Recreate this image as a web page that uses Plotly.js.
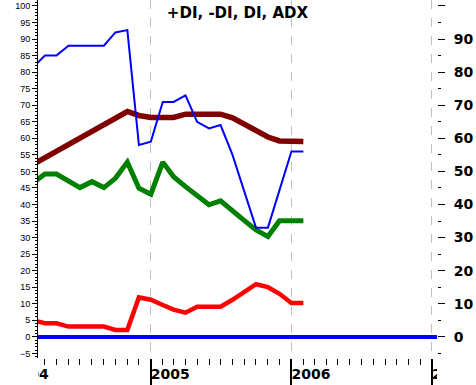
<!DOCTYPE html>
<html>
<head>
<meta charset="utf-8">
<script src="https://cdn.plot.ly/plotly-3.0.1.min.js"></script>
<style>html,body{margin:0;padding:0;background:#fff;}#chart{width:476px;height:385px;}</style>
</head>
<body>
<div id="chart"></div>
<script>
// Monthly observations, Mar 2004 .. Feb 2006
var dates = ['2004-03-01','2004-04-01','2004-05-01','2004-06-01','2004-07-01','2004-08-01',
             '2004-09-01','2004-10-01','2004-11-01','2004-12-01','2005-01-01','2005-02-01',
             '2005-03-01','2005-04-01','2005-05-01','2005-06-01','2005-07-01','2005-08-01',
             '2005-09-01','2005-10-01','2005-11-01','2005-12-01','2006-01-01','2006-02-01'];
var plusDI  = [81.5, 85, 85, 88, 88, 88, 88, 92, 92.7, 58, 59, 71, 71, 73, 65, 63, 64, 55, 44, 33, 33, 44.5, 56, 56];
var adx     = [52.1, 54.1, 56.1, 58.1, 60.0, 62.0, 64.0, 66.0, 68.1, 66.9, 66.3, 66.3, 66.3, 67.3, 67.3, 67.3, 67.3, 66.2, 64.4, 62.2, 60.4, 59.2, 59, 59];
var minusDI = [46.5, 49.2, 49.2, 47.2, 45.1, 46.9, 45.1, 47.9, 52.8, 44.9, 43.1, 52.8, 48.4, 45.4, 42.7, 39.9, 41.1, 37.9, 35.1, 32.3, 30.3, 35.1, 35.1, 35.1];
var di      = [5.0, 4.1, 4.1, 3.1, 3.1, 3.1, 3.1, 2.1, 2.1, 11.9, 11.2, 9.6, 8.2, 7.3, 9.1, 9.1, 9.1, 11.2, 13.7, 15.9, 15.0, 13.0, 10.2, 10.2];
// Year tick labels along the bottom
var yearDates  = ['2004-01-01','2005-01-01','2006-01-01','2007-01-01'];
var yearLabels = ['2004','2005','2006','2007'];
var leftTicks  = [-5,0,5,10,15,20,25,30,35,40,45,50,55,60,65,70,75,80,85,90,95,100];
var rightTicks = [0,10,20,30,40,50,60,70,80,90,100];
var rightText  = ['0','10','20','30','40','50','60','70','80','90',''];

var xRange = ['2004-03-14','2007-01-14'];
var yRange = [-6.4, 101.8];
var H = 385, plotBottom = 358;

var traces = [
  {x: dates, y: di, mode:'lines', line:{color:'#ff0000', width:4.5}, xaxis:'x', yaxis:'y'},
  {x: dates, y: minusDI, mode:'lines', line:{color:'#008000', width:5}, xaxis:'x', yaxis:'y'},
  {x: dates, y: adx, mode:'lines', line:{color:'#800000', width:5.5}, xaxis:'x', yaxis:'y'},
  {x: dates, y: plusDI, mode:'lines', line:{color:'#0000ff', width:2}, xaxis:'x', yaxis:'y2'},
  {x: yearDates, y: yearDates.map(function(){return 0;}), text: yearLabels, mode:'text',
   textposition:'middle right', cliponaxis:true, marker:{size:12},
   textfont:{family:'DejaVu Sans', size:14, color:'#000', weight:'bold'},
   xaxis:'x2', yaxis:'y3'}
];

var layout = {
  width: 476, height: 385,
  margin: {l:38, r:39, t:0, b:0, pad:0},
  paper_bgcolor:'#fff', plot_bgcolor:'#fff',
  showlegend:false,
  hovermode:false,
  font:{family:'Liberation Sans, Arial, sans-serif', color:'#000'},
  title:{text:'+DI, -DI, DI, ADX', x:0.5, xref:'paper', xanchor:'center',
         y:1-13/H, yanchor:'middle',
         font:{family:'DejaVu Sans', size:15, weight:'bold', color:'#000'}},
  xaxis:{type:'date', range:xRange, anchor:'y',
         tickmode:'linear', tick0:'2004-01-01', dtick:'M12',
         ticks:'outside', ticklen:26, tickwidth:2, tickcolor:'#000',
         showticklabels:false, showline:false, zeroline:false,
         showgrid:true, gridcolor:'#c0c0c0', griddash:'dash', gridwidth:1,
         minor:{tickmode:'linear', tick0:'2004-01-01', dtick:'M1', ticks:'outside', ticklen:6, tickwidth:1, tickcolor:'#000', showgrid:false}},
  xaxis2:{type:'date', matches:'x', range:xRange, anchor:'y3', visible:false, showgrid:false},
  yaxis:{domain:[(H-plotBottom)/H, 1], range:yRange, anchor:'x',
         tickmode:'array', tickvals:leftTicks,
         ticks:'outside', ticklen:5, tickcolor:'#000', tickwidth:1,
         tickfont:{family:'Liberation Sans', size:9, color:'#000'},
         showline:true, linecolor:'#000', linewidth:1,
         showgrid:false,
         zeroline:true, zerolinecolor:'#0000ff', zerolinewidth:4,
         minor:{tickmode:'linear', tick0:0, dtick:1, ticks:'outside', ticklen:2, tickcolor:'#000', showgrid:false}},
  yaxis2:{overlaying:'y', side:'right', range:yRange, anchor:'x',
          tickmode:'array', tickvals:rightTicks, ticktext:rightText,
          ticks:'outside', ticklen:7, tickcolor:'#000', tickwidth:1,
          ticklabelstandoff:6,
          tickfont:{family:'DejaVu Sans', size:14, weight:'bold', color:'#000'},
          showline:false, showgrid:false, zeroline:false,
          minor:{tickmode:'linear', tick0:-5, dtick:10, ticks:'outside', ticklen:3, tickcolor:'#000', showgrid:false}},
  yaxis3:{domain:[0, 0.062], range:[-1, 1.517], anchor:'x2', visible:false, showgrid:false, zeroline:false}
};

Plotly.newPlot('chart', traces, layout, {displayModeBar:false, staticPlot:true});
</script>
</body>
</html>
